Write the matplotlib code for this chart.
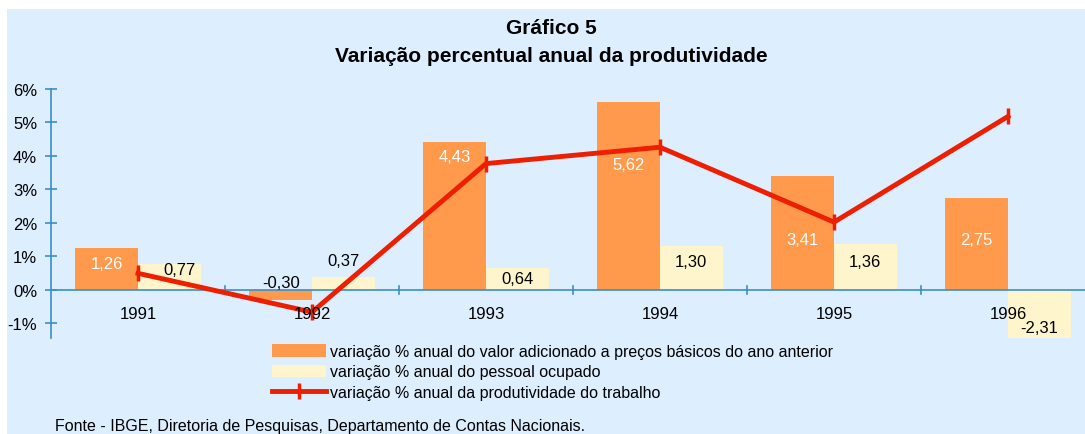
import matplotlib
matplotlib.use("Agg")
import matplotlib.pyplot as plt
from matplotlib.lines import Line2D
from matplotlib.patches import Patch, Rectangle
import numpy as np

plt.rcParams['font.family'] = ['Liberation Sans', 'DejaVu Sans']

years = ["1991", "1992", "1993", "1994", "1995", "1996"]
valor_adicionado = [1.26, -0.30, 4.43, 5.62, 3.41, 2.75]
pessoal_ocupado = [0.77, 0.37, 0.64, 1.30, 1.36, -2.31]
produtividade = [0.49, -0.67, 3.77, 4.26, 2.02, 5.18]
yticks = [-1, 0, 1, 2, 3, 4, 5, 6]

title1 = "Gráfico 5"
title2 = "Variação percentual anual da produtividade"
legend_labels = [
    "variação % anual do valor adicionado a preços básicos do ano anterior",
    "variação % anual do pessoal ocupado",
    "variação % anual da produtividade do trabalho",
]
source = "Fonte - IBGE, Diretoria de Pesquisas, Departamento de Contas Nacionais."

# label vertical positions (style, in data units)
lab_va_y = [0.77, 0.23, 3.99, 3.75, 1.51, 1.49]
lab_po_y = [0.60, 0.86, 0.32, 0.83, 0.84, -1.14]

BG = "#DDEEFF"
ORANGE = "#FF9A4C"
CREAM = "#FFF5CC"
RED = "#EE1E00"
AXC = "#3C8DC8"

W, H = 1085, 435
fig = plt.figure(figsize=(W / 100, H / 100), dpi=100)
fig.patch.set_facecolor("white")
fig.patches.append(Rectangle((7 / W, 0), 1 - 7 / W, 1 - 10 / H, transform=fig.transFigure,
                             facecolor=BG, edgecolor="none", zorder=-10))

ymin, ymax = -1.45, 6.0
ppu = (290.7 - 90) / 6.0
ax_top = 90
ax_bot = 290.7 + 1.45 * ppu
ax_left = 51
cat_w = 174
ax_right = ax_left + 6 * cat_w
ax = fig.add_axes([ax_left / W, 1 - ax_bot / H, (ax_right - ax_left) / W, (ax_bot - ax_top) / H])
ax.set_facecolor("none")
ax.set_xlim(-0.5, 5.5)
ax.set_ylim(ymin, ymax)

FS = 12
x = np.arange(len(years))
bw = 0.36
ax.bar(x - bw / 2, valor_adicionado, width=bw, color=ORANGE, zorder=2)
ax.bar(x + bw / 2, pessoal_ocupado, width=bw, color=CREAM, zorder=2)
ax.plot(x, produtividade, color=RED, lw=3.5, marker="|", markersize=12, markeredgewidth=2.5, zorder=4,
        solid_joinstyle="miter", clip_on=False)

for i in range(len(years)):
    col = "white" if valor_adicionado[i] > 0 else "black"
    ax.text(x[i] - bw / 2, lab_va_y[i], f"{valor_adicionado[i]:.2f}".replace(".", ","),
            ha="center", va="center", fontsize=FS, color=col, zorder=5)
    dx = 0.06 if i == 0 else 0.0
    ax.text(x[i] + bw / 2 + dx, lab_po_y[i], f"{pessoal_ocupado[i]:.2f}".replace(".", ","),
            ha="center", va="center", fontsize=FS, color="black", zorder=5)
    ax.text(x[i], -0.72, years[i], ha="center", va="center", fontsize=FS, color="black", zorder=5)

for s in ["top", "right", "bottom"]:
    ax.spines[s].set_visible(False)
ax.spines["left"].set_color(AXC)
ax.spines["left"].set_linewidth(1.2)
ax.axhline(0, color=AXC, lw=1.2, zorder=3)
ax.set_yticks(yticks)
ax.set_yticklabels([f"{t}%" for t in yticks], fontsize=FS)
ax.tick_params(axis="y", direction="inout", length=8, color=AXC, width=1.2, pad=6)
ax.set_xticks([])
for b in [0.5, 1.5, 2.5, 3.5, 4.5]:
    ax.plot([b, b], [-0.12, 0.12], color=AXC, lw=1.2, zorder=3)

fig.text(551 / W, 1 - 28 / H, title1, ha="center", va="center", fontsize=15, fontweight="bold")
fig.text(551 / W, 1 - 57 / H, title2, ha="center", va="center", fontsize=15, fontweight="bold")

handles = [Patch(facecolor=ORANGE, edgecolor="none"),
           Patch(facecolor=CREAM, edgecolor="none"),
           Line2D([], [], color=RED, lw=3.5, marker="|", markersize=12, markeredgewidth=2.5)]
leg = fig.legend(handles, legend_labels, loc="upper left", bbox_to_anchor=(272 / W, 1 - 345 / H),
                 frameon=False, fontsize=11.5, handlelength=3.4, handleheight=0.8, handletextpad=0.2,
                 labelspacing=0.33, borderaxespad=0, borderpad=0)

fig.text(55 / W, 1 - 427 / H, source, ha="left", va="center", fontsize=11.5)

fig.savefig("out.png", dpi=100, facecolor=fig.get_facecolor())
